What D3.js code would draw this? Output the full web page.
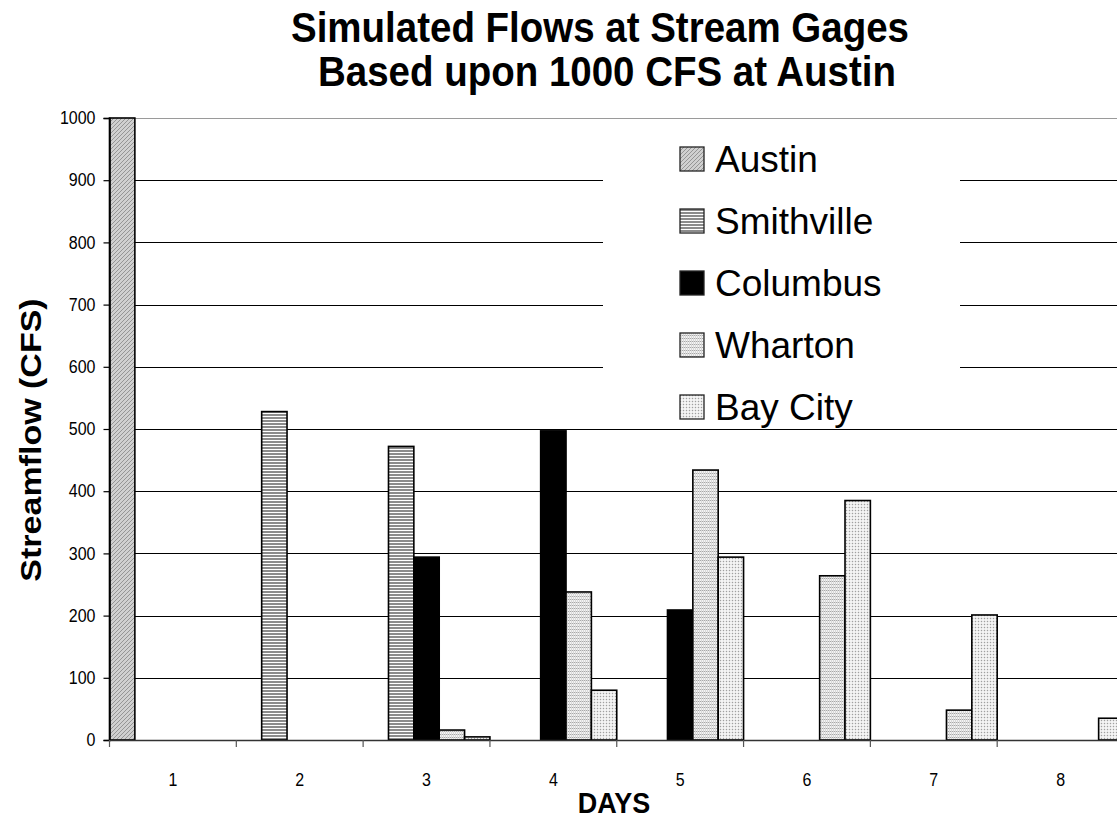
<!DOCTYPE html>
<html>
<head>
<meta charset="utf-8">
<script src="https://cdn.jsdelivr.net/npm/d3@7"></script>
<style>
  html, body { margin: 0; padding: 0; background: #fff; }
  svg { display: block; font-family: "Liberation Sans", Arial, sans-serif; }
</style>
</head>
<body>
<svg id="chart" width="1117" height="818"></svg>
<script>
// Simulated daily streamflow (CFS) at each gage after a 1000 CFS release at Austin
const days = ["1", "2", "3", "4", "5", "6", "7", "8"];
const gages = ["Austin", "Smithville", "Columbus", "Wharton", "Bay City"];
const austin     = [1000, 0,   0,   0,   0,   0,   0,   0];
const smithville = [0,  528, 472,   0,   0,   0,   0,   0];
const columbus   = [0,    0, 294, 497, 209,   0,   0,   0];
const wharton    = [0,    0,  16, 238, 434, 264,  48,   0];
const bayCity    = [0,    0,   5,  80, 294, 385, 201,  35];
const yTicks = [0, 100, 200, 300, 400, 500, 600, 700, 800, 900, 1000];

const seriesValues = [austin, smithville, columbus, wharton, bayCity];

const svg = d3.select("#chart");
const plot = { left: 109.5, right: 1124, top: 118, bottom: 740 };
const stretch = 1.12; // text is drawn slightly taller than wide

const x = d3.scaleBand().domain(days).range([plot.left, plot.right]).padding(0);
const xInner = d3.scaleBand().domain(gages).range([0, x.bandwidth()]).padding(0);
const y = d3.scaleLinear().domain([0, 1000]).range([plot.bottom, plot.top]);

// Fill patterns for each gage
const defs = svg.append("defs");

const pAustin = defs.append("pattern").attr("id", "pat-austin")
  .attr("patternUnits", "userSpaceOnUse").attr("width", 4).attr("height", 4);
pAustin.append("rect").attr("width", 4).attr("height", 4).attr("fill", "#d0d0d0");
pAustin.append("path").attr("d", "M-1,1 L1,-1 M0,4 L4,0 M3,5 L5,3")
  .attr("stroke", "#959595").attr("stroke-width", 1);

const pSmith = defs.append("pattern").attr("id", "pat-smithville")
  .attr("patternUnits", "userSpaceOnUse").attr("width", 4).attr("height", 3);
pSmith.append("rect").attr("width", 4).attr("height", 3).attr("fill", "#ffffff");
pSmith.append("rect").attr("width", 4).attr("height", 2).attr("fill", "#8c8c8c");

const pWharton = defs.append("pattern").attr("id", "pat-wharton")
  .attr("patternUnits", "userSpaceOnUse").attr("width", 2).attr("height", 3);
pWharton.append("rect").attr("width", 2).attr("height", 3).attr("fill", "#f4f4f4");
pWharton.append("rect").attr("y", 2).attr("width", 2).attr("height", 1).attr("fill", "#a8a8a8");
pWharton.append("rect").attr("x", 1).attr("width", 1).attr("height", 3).attr("fill", "#d8d8d8");

const pBay = defs.append("pattern").attr("id", "pat-baycity")
  .attr("patternUnits", "userSpaceOnUse").attr("width", 3).attr("height", 3);
pBay.append("rect").attr("width", 3).attr("height", 3).attr("fill", "#e6e6e6");
pBay.append("rect").attr("width", 1).attr("height", 1).attr("fill", "#a0a0a0");
pBay.append("rect").attr("x", 1).attr("y", 1).attr("width", 2).attr("height", 2).attr("fill", "#f4f4f4");

const fills = {
  "Austin": "url(#pat-austin)",
  "Smithville": "url(#pat-smithville)",
  "Columbus": "#000000",
  "Wharton": "url(#pat-wharton)",
  "Bay City": "url(#pat-baycity)"
};

// Horizontal gridlines
svg.append("g").selectAll("line")
  .data(yTicks.filter(d => d > 0))
  .join("line")
  .attr("x1", plot.left).attr("x2", 1117)
  .attr("y1", d => Math.round(y(d)) + 0.5).attr("y2", d => Math.round(y(d)) + 0.5)
  .attr("stroke", d => d === 1000 ? "#9a9a9a" : "#000")
  .attr("stroke-width", 1.2);

// Legend panel sits over the gridlines
const legend = svg.append("g");
legend.append("rect")
  .attr("x", 603).attr("y", 130).attr("width", 357).attr("height", 296)
  .attr("fill", "#fff");

// Bars
const rows = [];
days.forEach((d, i) => {
  gages.forEach((g, k) => {
    const v = seriesValues[k][i];
    if (v > 0) rows.push({ day: d, gage: g, value: v });
  });
});

svg.append("g").selectAll("rect")
  .data(rows)
  .join("rect")
  .attr("x", d => x(d.day) + xInner(d.gage))
  .attr("width", xInner.bandwidth())
  .attr("y", d => y(d.value))
  .attr("height", d => y(0) - y(d.value))
  .attr("fill", d => fills[d.gage])
  .attr("stroke", "#000")
  .attr("stroke-width", 1.6);

// Y axis
const yAxis = svg.append("g")
  .attr("transform", `translate(${plot.left},0)`)
  .call(d3.axisLeft(y).tickValues(yTicks).tickSize(6).tickPadding(8).tickFormat(d3.format("d")));
yAxis.select(".domain").attr("stroke", "#000").attr("stroke-width", 1.6);
yAxis.selectAll(".tick line").attr("stroke", "#000").attr("stroke-width", 1.2);
yAxis.selectAll(".tick text")
  .attr("font-size", 16).attr("fill", "#000")
  .attr("font-family", "'Liberation Sans', Arial, sans-serif")
  .attr("transform", `scale(1,${stretch})`);

// X axis: ticks at category boundaries, labels centred on each day
const xAxisG = svg.append("g").attr("transform", `translate(0,${plot.bottom})`);
xAxisG.append("line")
  .attr("x1", plot.left).attr("x2", 1117).attr("y1", 0.5).attr("y2", 0.5)
  .attr("stroke", "#333").attr("stroke-width", 1.4);
xAxisG.selectAll("line.tick")
  .data(days.slice(1))
  .join("line").attr("class", "tick")
  .attr("x1", d => x(d)).attr("x2", d => x(d))
  .attr("y1", 0).attr("y2", 7)
  .attr("stroke", "#555").attr("stroke-width", 1.2);
xAxisG.append("line")
  .attr("x1", plot.left).attr("x2", plot.left).attr("y1", 0).attr("y2", 7)
  .attr("stroke", "#555").attr("stroke-width", 1.2);
xAxisG.selectAll("text")
  .data(days)
  .join("text")
  .attr("transform", d => `translate(${x(d) + x.bandwidth() / 2},46) scale(1,${stretch})`)
  .attr("text-anchor", "middle")
  .attr("font-size", 16)
  .text(d => d);

// Legend entries
const legendItems = legend.selectAll("g.item")
  .data(gages)
  .join("g").attr("class", "item")
  .attr("transform", (d, i) => `translate(680,${147 + i * 62})`);
legendItems.append("rect")
  .attr("width", 24).attr("height", 24)
  .attr("fill", d => fills[d])
  .attr("stroke", "#222").attr("stroke-width", 1.3);
legendItems.append("text")
  .attr("x", 35).attr("y", 12)
  .attr("dy", "0.36em")
  .attr("font-size", 37)
  .text(d => d);

// Two-line title
const titleLines = [
  { text: "Simulated Flows at Stream Gages", cx: 600, base: 42 },
  { text: "Based upon 1000 CFS at Austin", cx: 607, base: 86 }
];
svg.append("g").selectAll("text")
  .data(titleLines)
  .join("text")
  .attr("transform", d => `translate(${d.cx},${d.base}) scale(1,1.08)`)
  .attr("text-anchor", "middle")
  .attr("font-weight", "bold")
  .attr("font-size", 38.5)
  .text(d => d.text);

svg.append("text")
  .attr("transform", "translate(41,440) scale(0.88,1) rotate(-90)")
  .attr("text-anchor", "middle")
  .attr("font-weight", "bold")
  .attr("font-size", 34)
  .text("Streamflow (CFS)");

svg.append("text")
  .attr("transform", `translate(614,813) scale(1,${stretch})`)
  .attr("text-anchor", "middle")
  .attr("font-weight", "bold")
  .attr("font-size", 27)
  .text("DAYS");
</script>
</body>
</html>
